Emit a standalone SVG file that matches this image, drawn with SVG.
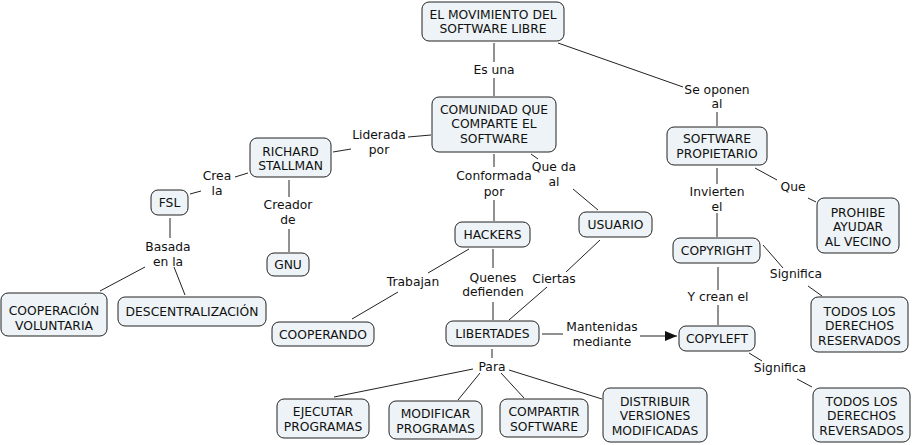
<svg xmlns="http://www.w3.org/2000/svg" width="914" height="445" viewBox="0 0 914 445">
<defs>
<style>
.n rect{fill:#edf3f6;stroke:#222;stroke-width:1}
text{font-family:"DejaVu Sans",Verdana,sans-serif;font-size:12.3px;fill:#111;text-anchor:middle}
.c line{stroke:#222;stroke-width:1}
</style>
<marker id="ah" markerWidth="12" markerHeight="10" refX="12" refY="5" orient="auto" markerUnits="userSpaceOnUse">
<path d="M0,0 L12,5 L0,10 Z" fill="#111"/>
</marker>
</defs>
<rect width="914" height="445" fill="#fff"/>
<g id="connectors" class="c">
<line x1="494" y1="43" x2="494" y2="62"/>
<line x1="494" y1="78" x2="494" y2="96"/>
<line x1="558" y1="43" x2="683" y2="87"/>
<line x1="717" y1="112" x2="717" y2="126"/>
<line x1="431" y1="135" x2="408" y2="137"/>
<line x1="351" y1="149" x2="333" y2="152"/>
<line x1="248" y1="173" x2="235" y2="177"/>
<line x1="201" y1="191" x2="190" y2="194"/>
<line x1="289" y1="180" x2="289" y2="197"/>
<line x1="289" y1="229" x2="289" y2="252"/>
<line x1="170" y1="218" x2="170" y2="238"/>
<line x1="145" y1="267" x2="100" y2="291"/>
<line x1="174" y1="267" x2="185" y2="295"/>
<line x1="494" y1="154" x2="494" y2="167"/>
<line x1="494" y1="200" x2="494" y2="221"/>
<line x1="531" y1="154" x2="538" y2="159"/>
<line x1="573" y1="189" x2="598" y2="210"/>
<line x1="469" y1="249" x2="428" y2="273"/>
<line x1="398" y1="292" x2="352" y2="319"/>
<line x1="493" y1="249" x2="493" y2="268"/>
<line x1="493" y1="302" x2="493" y2="320"/>
<line x1="600" y1="240" x2="566" y2="272"/>
<line x1="547" y1="287" x2="509" y2="320"/>
<line x1="542" y1="334" x2="563" y2="334"/>
<line x1="640" y1="336" x2="677" y2="336" marker-end="url(#ah)"/>
<line x1="492" y1="349" x2="492" y2="358"/>
<line x1="473" y1="369" x2="334" y2="397"/>
<line x1="480" y1="373" x2="458" y2="400"/>
<line x1="501" y1="373" x2="524" y2="398"/>
<line x1="509" y1="370" x2="602" y2="399"/>
<line x1="717" y1="168" x2="717" y2="184"/>
<line x1="717" y1="213" x2="717" y2="237"/>
<line x1="755" y1="168" x2="777" y2="180"/>
<line x1="808" y1="198" x2="816" y2="202"/>
<line x1="718" y1="267" x2="718" y2="290"/>
<line x1="718" y1="305" x2="718" y2="325"/>
<line x1="763" y1="245" x2="783" y2="268"/>
<line x1="808" y1="286" x2="822" y2="296"/>
<line x1="749" y1="353" x2="762" y2="361"/>
<line x1="797" y1="379" x2="812" y2="387"/>
</g>
<g id="labels">
<text x="494" y="74">Es una</text>
<text x="717" y="94">Se oponen</text><text x="717" y="108">al</text>
<text x="379" y="139">Liderada</text><text x="379" y="154">por</text>
<text x="217" y="180">Crea</text><text x="217" y="195">la</text>
<text x="288" y="209">Creador</text><text x="288" y="224">de</text>
<text x="168" y="251">Basada</text><text x="168" y="266">en la</text>
<text x="413" y="286">Trabajan</text>
<text x="494" y="180">Conformada</text><text x="494" y="195.5">por</text>
<text x="554" y="171">Que da</text><text x="554" y="186">al</text>
<text x="493" y="282">Quenes</text><text x="493" y="296">defienden</text>
<text x="554" y="283">Ciertas</text>
<text x="602" y="331">Mantenidas</text><text x="602" y="346">mediante</text>
<text x="492" y="371">Para</text>
<text x="717" y="196">Invierten</text><text x="717" y="211">el</text>
<text x="793" y="191">Que</text>
<text x="796" y="278">Significa</text>
<text x="718" y="301">Y crean el</text>
<text x="780" y="372">Significa</text>
</g>
<g id="n_movimiento" class="n"><rect x="422" y="2" width="142" height="39" rx="7"/><text x="493" y="19">EL MOVIMIENTO DEL</text><text x="493" y="33">SOFTWARE LIBRE</text></g>
<g id="n_comunidad" class="n"><rect x="432" y="97" width="124" height="55" rx="7"/><text x="494" y="113.5">COMUNIDAD QUE</text><text x="494" y="128">COMPARTE EL</text><text x="494" y="142.5">SOFTWARE</text></g>
<g id="n_richard" class="n"><rect x="250" y="138" width="81" height="39" rx="7"/><text x="290.5" y="155.5">RICHARD</text><text x="290.5" y="169.5">STALLMAN</text></g>
<g id="n_fsl" class="n"><rect x="151" y="190" width="37" height="25" rx="7"/><text x="169.5" y="207">FSL</text></g>
<g id="n_gnu" class="n"><rect x="267" y="253" width="42" height="23" rx="7"/><text x="288" y="268.5">GNU</text></g>
<g id="n_cooperacion" class="n"><rect x="1" y="293" width="106" height="43" rx="7"/><text x="54" y="314.5">COOPERACIÓN</text><text x="54" y="329.5">VOLUNTARIA</text></g>
<g id="n_descentralizacion" class="n"><rect x="118" y="297" width="148" height="29" rx="7"/><text x="192" y="316">DESCENTRALIZACIÓN</text></g>
<g id="n_cooperando" class="n"><rect x="272" y="322" width="102" height="24" rx="7"/><text x="323" y="338.5">COOPERANDO</text></g>
<g id="n_hackers" class="n"><rect x="455" y="222" width="75" height="25" rx="7"/><text x="492.5" y="238.5">HACKERS</text></g>
<g id="n_usuario" class="n"><rect x="579" y="212" width="73" height="25" rx="7"/><text x="615.5" y="229">USUARIO</text></g>
<g id="n_libertades" class="n"><rect x="446" y="321" width="93" height="25" rx="7"/><text x="492.5" y="337.5">LIBERTADES</text></g>
<g id="n_propietario" class="n"><rect x="667" y="127" width="100" height="38" rx="7"/><text x="717" y="142.5">SOFTWARE</text><text x="717" y="157.5">PROPIETARIO</text></g>
<g id="n_prohibe" class="n"><rect x="817" y="198" width="82" height="55" rx="7"/><text x="858" y="216.5">PROHIBE</text><text x="858" y="230.5">AYUDAR</text><text x="858" y="245.5">AL VECINO</text></g>
<g id="n_copyright" class="n"><rect x="673" y="238" width="87" height="25" rx="7"/><text x="716.5" y="255">COPYRIGHT</text></g>
<g id="n_reservados" class="n"><rect x="811" y="297" width="97" height="55" rx="7"/><text x="859.5" y="315.5">TODOS LOS</text><text x="859.5" y="330">DERECHOS</text><text x="859.5" y="344.5">RESERVADOS</text></g>
<g id="n_copyleft" class="n"><rect x="679" y="326" width="76" height="25" rx="7"/><text x="717" y="343">COPYLEFT</text></g>
<g id="n_reversados" class="n"><rect x="813" y="388" width="97" height="54" rx="7"/><text x="861.5" y="405.5">TODOS LOS</text><text x="861.5" y="420">DERECHOS</text><text x="861.5" y="434.5">REVERSADOS</text></g>
<g id="n_ejecutar" class="n"><rect x="277" y="399" width="92" height="39" rx="7"/><text x="323" y="415.5">EJECUTAR</text><text x="323" y="430.5">PROGRAMAS</text></g>
<g id="n_modificar" class="n"><rect x="389" y="401" width="93" height="38" rx="7"/><text x="435.5" y="417.5">MODIFICAR</text><text x="435.5" y="432.5">PROGRAMAS</text></g>
<g id="n_compartir" class="n"><rect x="500" y="399" width="88" height="38" rx="7"/><text x="544" y="415.5">COMPARTIR</text><text x="544" y="430.5">SOFTWARE</text></g>
<g id="n_distribuir" class="n"><rect x="603" y="388" width="104" height="54" rx="7"/><text x="655" y="405.5">DISTRIBUIR</text><text x="655" y="420">VERSIONES</text><text x="655" y="434.5">MODIFICADAS</text></g>
</svg>
